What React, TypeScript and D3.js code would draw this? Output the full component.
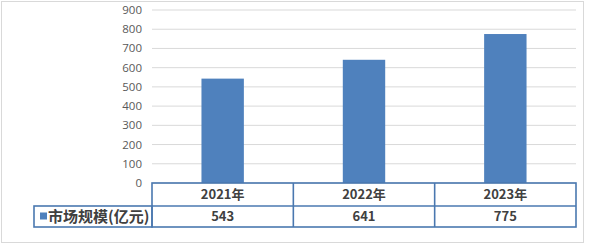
import React from "react";
import * as d3 from "d3";

const categories = ["2021年", "2022年", "2023年"];
const values = [543, 641, 775];
const seriesName = "市场规模(亿元)";
const yTicks = [0, 100, 200, 300, 400, 500, 600, 700, 800, 900];

export default function App() {
  const W = 590, H = 246;
  const left = 152, right = 576, top = 10, bottom = 183;
  const rowMid = 206, tableBottom = 227, legendLeft = 34;
  const blue = "#4f81bd";
  const border = "#4a78b0";
  const x = d3.scaleBand<string>().domain(categories).range([left, right]).paddingInner(0).paddingOuter(0);
  const y = d3.scaleLinear().domain([0, 900]).range([bottom, top]);
  const bw = x.bandwidth() * 0.3;
  return (
    <svg width={W} height={H} style={{ position: "absolute", left: 0, top: 0, fontFamily: "'Noto Sans CJK SC', 'Open Sans', sans-serif" }}>
      <rect x={0} y={0} width={W} height={H} fill="#fff" />
      <rect x={1.5} y={1.5} width={582} height={241} fill="none" stroke="#d9d9d9" />
      {yTicks.map((t) => (
        <g key={t}>
          <line x1={left} x2={right} y1={y(t)} y2={y(t)} stroke="#d9d9d9" strokeWidth={1} />
          <text x={142} y={y(t)} dy="0.35em" textAnchor="end" fontSize={11.5} fill="#595959" fontFamily="'Open Sans', sans-serif">{t}</text>
        </g>
      ))}
      {categories.map((c, i) => (
        <rect key={c} x={x(c)! + (x.bandwidth() - bw) / 2} y={y(values[i])} width={bw} height={bottom - y(values[i])} fill={blue} />
      ))}
      {/* table */}
      <g fill="none" stroke={border} strokeWidth={1.6}>
        <rect x={left} y={bottom} width={right - left} height={tableBottom - bottom} />
        <rect x={legendLeft} y={rowMid} width={left - legendLeft} height={tableBottom - rowMid} />
        <line x1={left} x2={right} y1={rowMid} y2={rowMid} />
        {categories.slice(1).map((c) => (
          <line key={c} x1={x(c)!} x2={x(c)!} y1={bottom} y2={tableBottom} />
        ))}
      </g>
      {categories.map((c, i) => (
        <g key={c}>
          <text x={x(c)! + x.bandwidth() / 2} y={(bottom + rowMid) / 2} dy="0.36em" textAnchor="middle" fontSize={13} fontWeight="bold" fill="#404040">{c}</text>
          <text x={x(c)! + x.bandwidth() / 2} y={(rowMid + tableBottom) / 2} dy="0.36em" textAnchor="middle" fontSize={13} fontWeight="bold" fill="#404040">{values[i]}</text>
        </g>
      ))}
      <rect x={40} y={212.5} width={7} height={7} fill={blue} />
      <text x={48} y={(rowMid + tableBottom) / 2} dy="0.36em" fontSize={15} fontWeight="bold" fill="#404040">{seriesName}</text>
    </svg>
  );
}
